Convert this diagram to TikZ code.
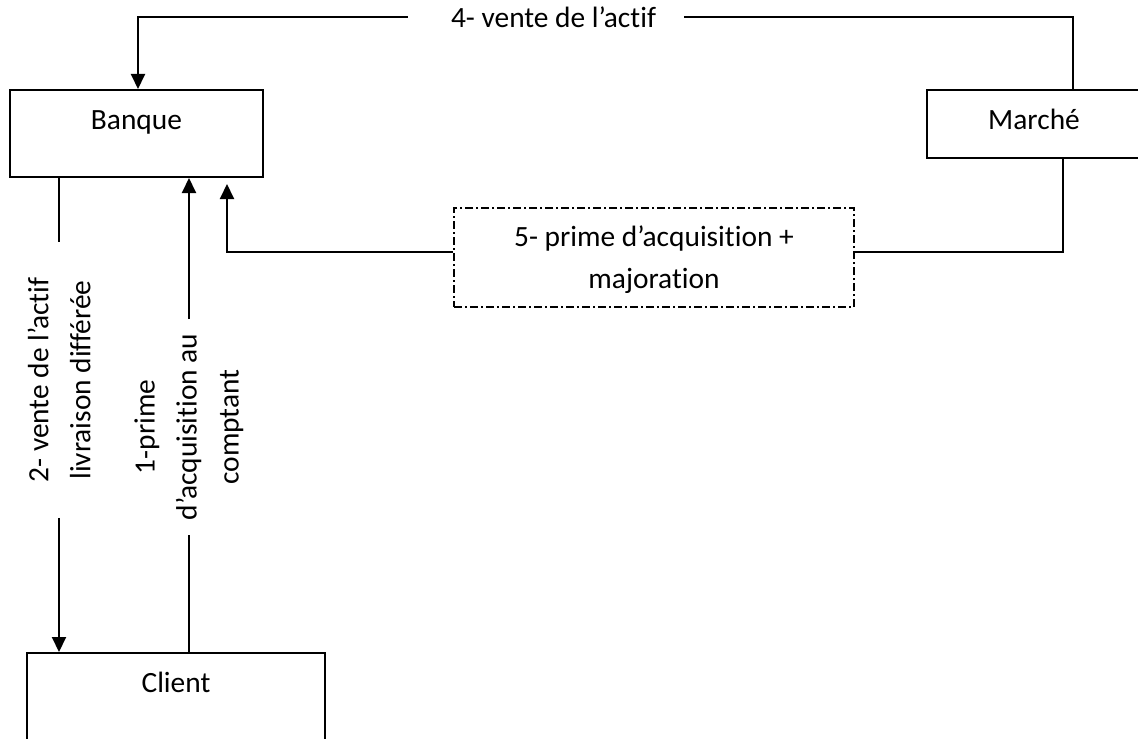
\documentclass[tikz,border=0pt]{standalone}
\usepackage{fontspec}
\setmainfont{Carlito}[Ligatures={NoCommon}]
\usetikzlibrary{arrows.meta, calc}

\tikzset{
    box/.style={draw, line width=1pt, inner xsep=0pt, inner ysep=0pt, text height=19.5pt, anchor=north west},
    dashbox/.style={box, dash pattern=on 4pt off 1.5pt on 1pt off 1.5pt, align=center},
    flow/.style={line width=1pt},
    arr/.style={flow, -{Triangle[width=7pt,length=7.5pt]}},
    vlabel/.style={rotate=90, align=center, inner ysep=0pt}
}

\begin{document}
\begin{tikzpicture}[x=0.5pt, y=-0.5pt, font=\fontsize{14.7}{21}\selectfont]
    \useasboundingbox (0,0) rectangle (1138,738);

    % Draw the boxes
    \node[box, minimum width=126.5pt, text depth=24pt] (bank) at (9,89) {Banque};
    \node[box, minimum width=107pt, text depth=14.5pt] (market) at (926,89) {Marché};
    \node[box, minimum width=149pt, text depth=40pt] (client) at (26,652) {Client};
    \node[dashbox, minimum width=200pt, text height=40pt, text depth=9.5pt] (prime5) at (453,207) {5- prime d’acquisition +\\majoration};

    % Labels on the flows
    \node[anchor=base, inner sep=0pt] (sale4) at (553.5,28) {4- vente de l’actif};
    \node[vlabel, inner xsep=7pt] (prime1) at (189,427) {1-prime\\d’acquisition au\\comptant};
    \node[vlabel, inner xsep=17.5pt] (sale2) at (59,380) {2- vente de l’actif\\livraison différée};

    % Corners of the flows
    \coordinate (m4) at (1073,17);
    \coordinate (b4) at (138,17);
    \coordinate (m5) at (1063,252);
    \coordinate (b5) at (227,252);

    % 4- Marche to Banque
    \draw[flow] (market.north -| m4) -- (m4) -- ($(sale4.east |- m4)+(28,0)$);
    \draw[arr] ($(sale4.west |- b4)+(-43,0)$) -- (b4) -- (bank.north -| b4);

    % 5- Marche to Banque through the dashed box
    \draw[flow] (market.south -| m5) -- (m5) -- (prime5.east |- m5);
    \draw[arr, shorten >=3pt] (prime5.west |- b5) -- (b5) -- (bank.south -| b5);

    % 1- Client to Banque
    \draw[flow] (client.north -| prime1) -- (prime1.west);
    \draw[arr] (prime1.east) -- (bank.south -| prime1);

    % 2- Banque to Client
    \draw[flow] (bank.south -| sale2) -- (sale2.east);
    \draw[arr] (sale2.west) -- (client.north -| sale2);
\end{tikzpicture}
\end{document}
